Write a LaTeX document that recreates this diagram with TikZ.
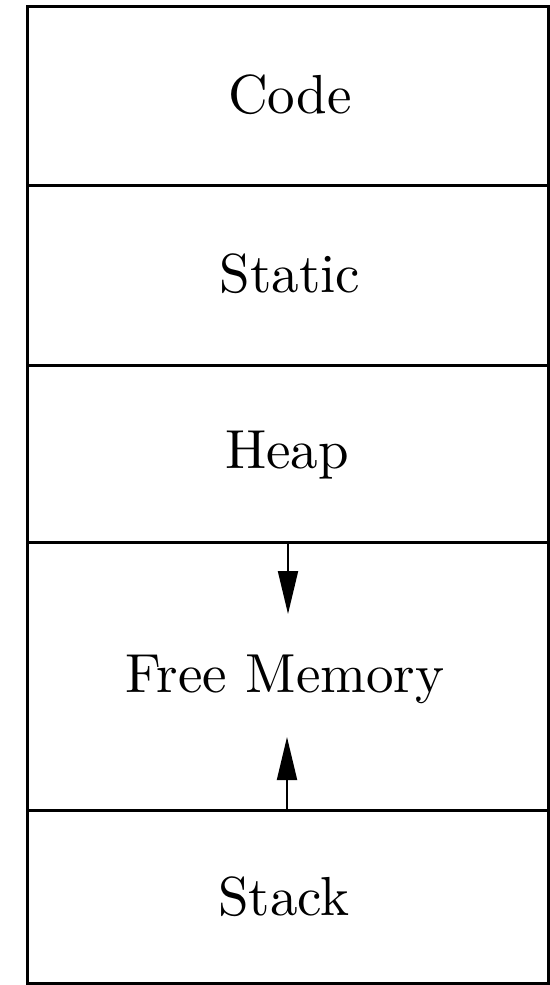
\documentclass[tikz,border=0pt]{standalone}
\usepackage{fontspec}
\newfontfamily\tenrm{lmroman10-regular}[Extension=.otf]
\usetikzlibrary{arrows.meta}
\begin{document}
\begin{tikzpicture}[x=0.5pt,y=-0.5pt,
  wall/.style={line width=1.5pt, black},
  lbl/.style={anchor=base, inner sep=0pt, font=\tenrm\fontsize{27.5}{32}\selectfont},
  growarrow/.style={line width=1pt, -{Triangle[length=21.5pt,width=10pt]}}]
\useasboundingbox (0,0) rectangle (550,985);
\fill[white] (0,0) rectangle (550,985);
% outer box and dividers
\draw[wall] (27,983) -- (27,6) -- (548,6) -- (548,983) -- cycle;
\coordinate (d1l) at (27,185);  \coordinate (d1r) at (548,185);
\coordinate (d2l) at (27,365);  \coordinate (d2r) at (548,365);
\coordinate (d3l) at (27,542);  \coordinate (d3r) at (548,542);
\coordinate (d4l) at (27,810);  \coordinate (d4r) at (548,810);
\draw[wall] (d1l) -- (d1r);
\draw[wall] (d2l) -- (d2r);
\draw[wall] (d3l) -- (d3r);
\draw[wall] (d4l) -- (d4r);
% labels
\node[lbl] (code) at (290,113) {Code};
\node[lbl] (static) at (290,292) {Static};
\node[lbl] (heap) at (287,468) {Heap};
\node[lbl] (free) at (285,692) {Free Memory};
\node[lbl] (stack) at (284,915) {Stack};
% arrows
\coordinate (hs) at (288,542); \coordinate (he) at (288,614);
\coordinate (ss) at (287,810); \coordinate (se) at (287,737);
\draw[growarrow] (hs) -- (he);
\draw[growarrow] (ss) -- (se);
\end{tikzpicture}
\end{document}
